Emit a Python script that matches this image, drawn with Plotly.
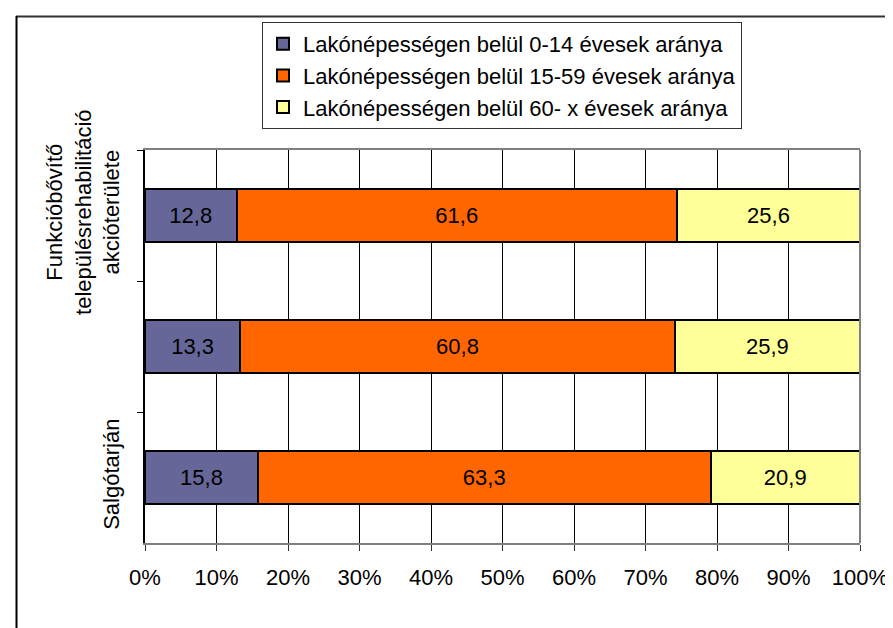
import plotly.graph_objects as go

categories = [
    "Funkcióbővítő<br>településrehabilitáció<br>akcióterülete",
    " ",
    "Salgótarján",
]
series_names = [
    "Lakónépességen belül 0-14 évesek aránya",
    "Lakónépességen belül 15-59 évesek aránya",
    "Lakónépességen belül 60- x évesek aránya",
]
age_0_14 = [12.8, 13.3, 15.8]
age_15_59 = [61.6, 60.8, 63.3]
age_60_x = [25.6, 25.9, 20.9]
x_ticks = [0, 10, 20, 30, 40, 50, 60, 70, 80, 90, 100]

colors = ["#666699", "#FF6600", "#FFFF99"]
FONT = "Liberation Sans, Arial, sans-serif"
FS = 22

fig = go.Figure()
for name, vals, col in zip(series_names, [age_0_14, age_15_59, age_60_x], colors):
    fig.add_trace(go.Bar(
        y=categories, x=vals, name=name, orientation="h",
        marker=dict(color=col, line=dict(color="#000000", width=2)),
        texttemplate="%{x:.1f}", textposition="inside",
        insidetextanchor="middle", textangle=0,
        textfont=dict(color="#000000", size=FS, family=FONT),
        legendgroup=name,
    ))

W, H = 893, 628
L, R, T, B = 137, 41, 142, 93
pw, ph = W - L - R, H - T - B

def px(xp):
    return (xp - L) / pw

def py(yp):
    return (H - B - yp) / ph

fig.update_layout(
    width=W, height=H,
    margin=dict(l=L, r=R, t=T, b=B),
    barmode="stack", bargap=0.6,
    separators=", ",
    paper_bgcolor="#FFFFFF", plot_bgcolor="#FFFFFF",
    font=dict(family=FONT, size=FS, color="#000000"),
    legend=dict(
        x=px(254), y=py(14), xanchor="left", yanchor="top",
        bordercolor="#333333", borderwidth=1, bgcolor="#FFFFFF",
        font=dict(size=FS, family=FONT), tracegroupgap=11,
        traceorder="normal", itemwidth=30,
    ),
    xaxis=dict(
        range=[0, 100], tickvals=x_ticks,
        ticktext=[f"{v}%" for v in x_ticks],
        showgrid=True, gridcolor="#000000", gridwidth=1,
        showline=True, linecolor="#808080", linewidth=2, mirror=True,
        ticks="outside", ticklen=6, tickcolor="#333333",
        ticklabelstandoff=8,
        zeroline=False, fixedrange=True,
    ),
    yaxis=dict(
        categoryorder="array", categoryarray=categories,
        autorange="reversed",
        tickangle=-90, tickson="boundaries",
        ticks="outside", ticklen=6, tickcolor="#000000",
        ticklabelstandoff=15,
        showline=True, linecolor="#000000", linewidth=2,
        showgrid=False, zeroline=False,
    ),
    shapes=[
        dict(type="line", xref="paper", yref="paper",
             x0=1, x1=1, y0=0, y1=1, line=dict(color="#808080", width=2)),
        dict(type="line", xref="paper", yref="paper",
             x0=px(8), x1=px(900), y0=py(8.5), y1=py(8.5),
             line=dict(color="#333333", width=2)),
        dict(type="line", xref="paper", yref="paper",
             x0=px(8.5), x1=px(8.5), y0=py(8), y1=py(640),
             line=dict(color="#000000", width=2)),
    ],
)

fig.write_html("out.html")
